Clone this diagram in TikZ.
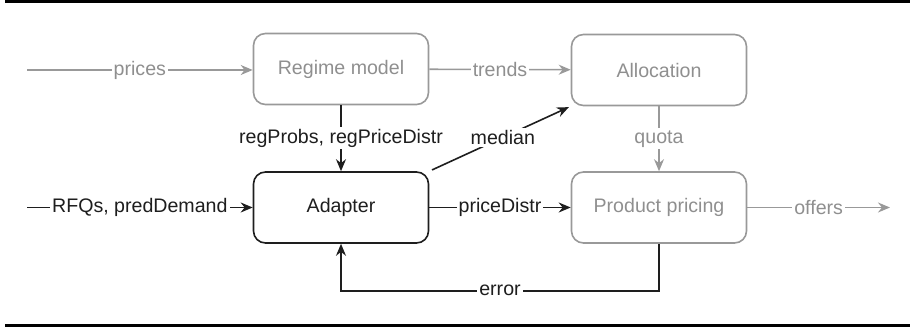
\documentclass[tikz,border=0pt]{standalone}
\usepackage{fontspec}
\setmainfont{Liberation Sans}
\usetikzlibrary{arrows.meta}
\definecolor{muted}{HTML}{999999}
\definecolor{mutedtext}{HTML}{8F8F8F}
\definecolor{ink}{HTML}{1E1E1E}

\begin{document}
\begin{tikzpicture}[x=1pt,y=-1pt,>={Stealth[length=12pt,width=10pt]},
  font=\fontsize{19.6}{23}\selectfont,
  box/.style={draw=ink,text=ink,line width=1.6pt,rounded corners=12pt,minimum width=175pt,minimum height=71pt},
  gbox/.style={box,draw=muted,text=mutedtext},
  wire/.style={->,draw=ink,line width=1.6pt},
  gwire/.style={->,draw=muted,line width=1.6pt},
  lbl/.style={fill=white,inner sep=2pt,text=ink},
  glbl/.style={lbl,text=mutedtext}]
\useasboundingbox (0,0) rectangle (910,328);
\draw[line width=3pt] (5,2) -- (910,2);
\draw[line width=3pt] (5,325.5) -- (910,325.5);
\node[gbox] (regime) at (341,69) {Regime model};
\node[gbox] (alloc) at (659,70) {Allocation};
\node[box] (adapter) at (341,207.5) {Adapter};
\node[gbox] (pricing) at (659,207.5) {Product pricing};
\coordinate (pricesin) at (27,70);
\coordinate (rfqin) at (27,207.5);
\coordinate (offersout) at (890,207.5);
\draw[gwire] (pricesin) -- node[glbl]{prices} (regime.west |- pricesin);
\draw[gwire] (regime) -- node[glbl]{trends} (alloc);
\draw[gwire] (alloc) -- node[glbl]{quota} (pricing);
\draw[gwire] (pricing) -- node[glbl]{offers} (offersout);
\draw[wire] (regime) -- node[lbl]{regProbs, regPriceDistr} (adapter);
\draw[wire] (rfqin) -- node[lbl]{RFQs, predDemand} (adapter);
\draw[wire] (adapter) -- node[lbl]{priceDistr} (pricing);
\draw[wire,shorten <=3pt,shorten >=2pt] (adapter.north east) -- node[lbl,pos=0.52]{median} (alloc.south west);
\draw[wire] (pricing.south) -- ++(0,47) -| node[lbl,pos=0.25]{error} (adapter.south);
\end{tikzpicture}
\end{document}
